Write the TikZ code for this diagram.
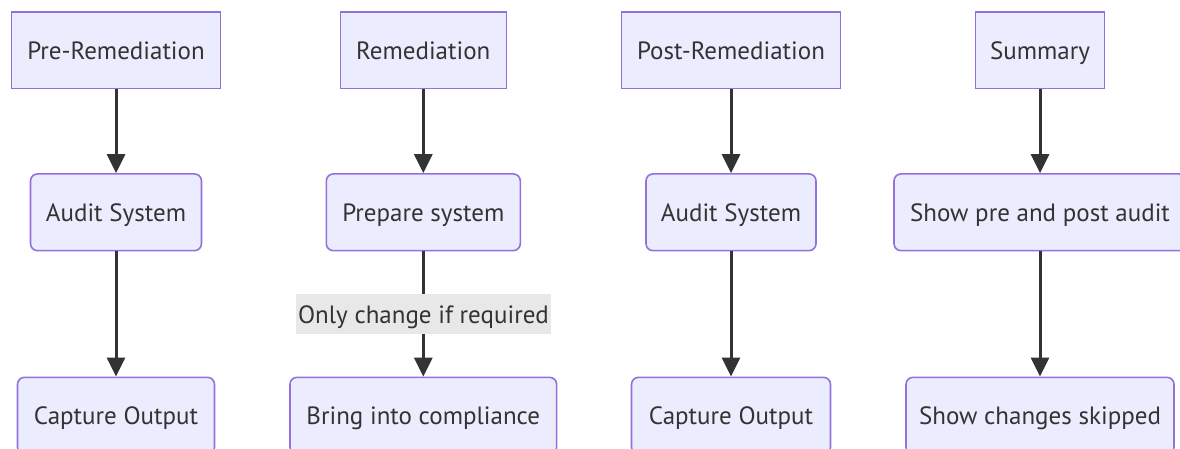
\documentclass[tikz,border=0pt]{standalone}
\usepackage{fontspec}
\setmainfont{PT Sans}
\usetikzlibrary{arrows.meta}
\definecolor{boxfill}{HTML}{ECECFF}
\definecolor{boxline}{HTML}{9370DB}
\definecolor{ink}{HTML}{333333}
\definecolor{lblfill}{HTML}{E8E8E8}
\tikzset{
  base/.style={draw=boxline, fill=boxfill, line width=1.6pt, text=ink,
    font=\fontsize{25}{30}\selectfont, minimum height=76.7pt, inner sep=0pt,
    text height=18pt, text depth=0pt},
  phase/.style={base},
  task/.style={base, rounded corners=7pt},
  flow/.style={draw=ink, line width=3pt,
    -{Triangle[length=19pt,width=18pt]}},
  lbl/.style={fill=lblfill, text=ink, font=\fontsize{25}{30}\selectfont,
    inner sep=0pt, minimum height=40pt, minimum width=255pt,
    text height=18pt, text depth=0pt}
}
\begin{document}
\begin{tikzpicture}[x=1pt,y=-1pt]
\useasboundingbox (0,0) rectangle (1180,449);
\begin{scope}
\clip (0,0) rectangle (1180,449);
% phase headers
\node[phase, minimum width=209pt] (pre)  at (116,50.3)   {Pre-Remediation};
\node[phase, minimum width=166pt] (rem)  at (423.3,50.3) {Remediation};
\node[phase, minimum width=219pt] (post) at (731,50.3)   {Post-Remediation};
\node[phase, minimum width=129pt] (sum)  at (1040,50.3)  {Summary};
% second row
\node[task, minimum width=171pt] (audit1) at (116,212.3)   {Audit System};
\node[task, minimum width=194pt] (prep)   at (423.3,212.3) {Prepare system};
\node[task, minimum width=170pt] (audit2) at (731,212.3)   {Audit System};
\node[task, minimum width=292pt] (show)   at (1040,212.3)  {Show pre and post audit};
% third row
\node[task, minimum width=197pt] (cap1)   at (116,415.7)   {Capture Output};
\node[task, minimum width=266.7pt] (comp) at (423.3,415.7) {Bring into compliance};
\node[task, minimum width=199pt] (cap2)   at (731,415.7)   {Capture Output};
\node[task, minimum width=268pt] (skip)   at (1040,415.7)  {Show changes skipped};
% connectors
\draw[flow] (pre) -- (audit1);
\draw[flow] (audit1) -- (cap1);
\draw[flow] (rem) -- (prep);
\draw[flow] (prep) -- (comp);
\draw[flow] (post) -- (audit2);
\draw[flow] (audit2) -- (cap2);
\draw[flow] (sum) -- (show);
\draw[flow] (show) -- (skip);
\node[lbl] (req) at (423.5,314) {Only change if required};
\end{scope}
\end{tikzpicture}
\end{document}
